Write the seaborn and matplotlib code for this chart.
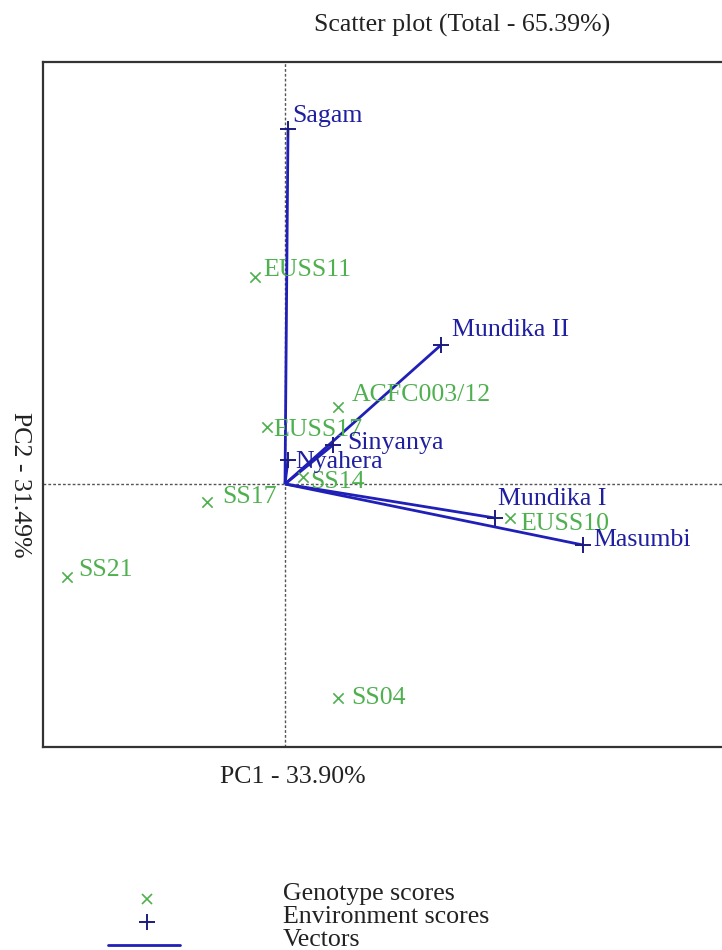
import matplotlib
matplotlib.use("Agg")
import matplotlib.pyplot as plt
import seaborn as sns
import pandas as pd

# ---- data ----
genotypes = ["EUSS11", "ACFC003/12", "EUSS17", "SS14", "SS17", "SS21", "EUSS10", "SS04"]
gen_pc1 = [-0.30, 0.53, -0.18, 0.18, -0.78, -2.18, 2.25, 0.53]
gen_pc2 = [2.07, 0.77, 0.57, 0.07, -0.18, -0.93, -0.34, -2.14]

environments = ["Sagam", "Mundika II", "Sinyanya", "Nyahera", "Mundika I", "Masumbi"]
env_pc1 = [0.03, 1.56, 0.48, 0.03, 2.10, 2.98]
env_pc2 = [3.55, 1.39, 0.39, 0.24, -0.34, -0.61]

title = "Scatter plot (Total - 65.39%)"
xlabel = "PC1 - 33.90%"
ylabel = "PC2 - 31.49%"
legend_labels = ["Genotype scores", "Environment scores", "Vectors"]

# ---- label offsets (pixels: dx right, dy of cap-centre relative to marker) ----
gen_off = {"EUSS11": (8, -10), "ACFC003/12": (14, -14), "EUSS17": (6, 0), "SS14": (7, 3),
           "SS17": (15, -7), "SS21": (11, -9), "EUSS10": (10, 3), "SS04": (13, -2)}
env_off = {"Sagam": (4, -15), "Mundika II": (11, -18), "Sinyanya": (14, -4), "Nyahera": (7, 0),
           "Mundika I": (3, -21), "Masumbi": (10, -7)}

GREEN = "#4fb04f"
NAVY = "#1c1c80"
BLUE = "#2020b8"
LBLUE = "#1f1fa0"
FS = 18.6
FONT = "Liberation Serif"

sns.set_theme(style="white")
plt.rcParams["font.family"] = [FONT, "DejaVu Serif"]

W, H = 722, 950
fig = plt.figure(figsize=(W / 100, H / 100), dpi=100)
ax = fig.add_axes([43 / W, (H - 747) / H, (732 - 43) / W, (747 - 62) / H])

gdf = pd.DataFrame({"name": genotypes, "PC1": gen_pc1, "PC2": gen_pc2})
edf = pd.DataFrame({"name": environments, "PC1": env_pc1, "PC2": env_pc2})

# reference lines
ax.axhline(0, color="#555555", lw=1.0, ls=(0, (2, 1.5)), zorder=1)
ax.axvline(0, color="#555555", lw=1.0, ls=(0, (2, 1.5)), zorder=1)

# vectors
for x, y in zip(env_pc1, env_pc2):
    ax.plot([0, x], [0, y], color=BLUE, lw=2.0, zorder=2, solid_capstyle="butt")

sns.scatterplot(data=gdf, x="PC1", y="PC2", marker="x", color=GREEN, s=55,
                linewidth=1.2, ax=ax, zorder=3, legend=False)
sns.scatterplot(data=edf, x="PC1", y="PC2", marker="+", color=NAVY, s=130,
                linewidth=1.4, ax=ax, zorder=4, legend=False)

CAP = 8.5
for n, x, y in zip(genotypes, gen_pc1, gen_pc2):
    dx, dy = gen_off[n]
    ax.annotate(n, (x, y), xytext=(dx * 0.72, -(dy + CAP) * 0.72), textcoords="offset points",
                ha="left", va="baseline", color=GREEN, fontsize=FS, zorder=5)
for n, x, y in zip(environments, env_pc1, env_pc2):
    dx, dy = env_off[n]
    ax.annotate(n, (x, y), xytext=(dx * 0.72, -(dy + CAP) * 0.72), textcoords="offset points",
                ha="left", va="baseline", color=LBLUE, fontsize=FS, zorder=5)

ax.set_xlim(-2.42, 4.47)
ax.set_ylim(-2.63, 4.22)
ax.set_xticks([])
ax.set_yticks([])
ax.set_xlabel("")
ax.set_ylabel("")
for s in ax.spines.values():
    s.set_color("#333333")
    s.set_linewidth(1.6)

# titles / axis labels
fig.text(462 / W, 1 - 32 / H, title, ha="center", va="baseline", fontsize=FS, color="#222222")
fig.text(220 / W, 1 - 783 / H, xlabel, ha="left", va="baseline", fontsize=FS, color="#222222")
fig.text(20 / W, 1 - 485 / H, ylabel, ha="center", va="center", rotation=-90,
         fontsize=FS, color="#222222")

# legend drawn in a full-figure overlay axes (pixel coordinates)
lax = fig.add_axes([0, 0, 1, 1], zorder=10)
lax.set_xlim(0, W)
lax.set_ylim(H, 0)
lax.axis("off")
lax.patch.set_alpha(0)
lax.plot([147], [899], marker="x", color=GREEN, ms=7, mew=1.2, ls="none")
lax.plot([147], [922], marker="+", color=NAVY, ms=11, mew=1.4, ls="none")
lax.plot([108, 180], [945, 945], color=BLUE, lw=2.0)
for lbl, yb in zip(legend_labels, [900, 923, 946]):
    lax.text(283, yb, lbl, ha="left", va="baseline", fontsize=FS, color="#222222")

fig.savefig("out.png", dpi=100)
